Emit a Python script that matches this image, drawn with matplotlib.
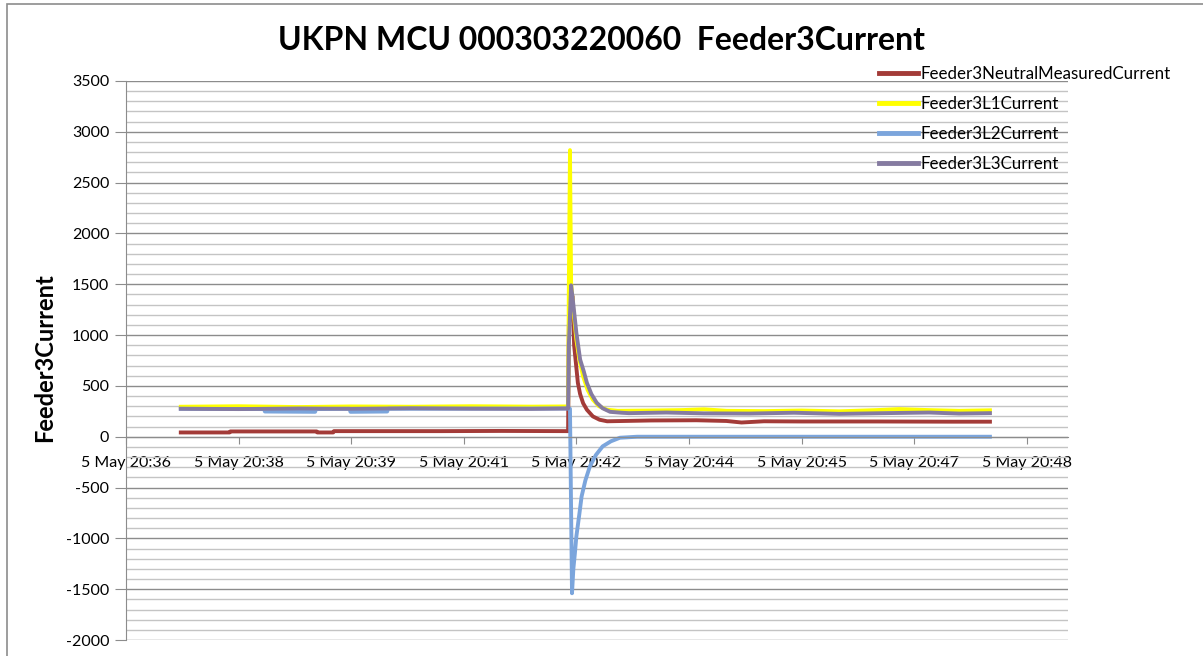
import matplotlib.pyplot as plt
from matplotlib.patches import Rectangle
from matplotlib.ticker import MultipleLocator

plt.rcParams['font.family'] = ['Lato', 'DejaVu Sans']
plt.rcParams['axes.unicode_minus'] = False

# minutes after 20:00 on 5 May
tick_pos = [36, 37.5, 39, 40.5, 42, 43.5, 45, 46.5, 48]
tick_labels = ['5 May 20:36', '5 May 20:38', '5 May 20:39', '5 May 20:41',
               '5 May 20:42', '5 May 20:44', '5 May 20:45', '5 May 20:47',
               '5 May 20:48']

neutral_t = [36.73, 37.38, 37.39, 38.54, 38.55, 38.76, 38.77, 40.2, 41.0, 41.89,
             41.90, 41.95, 41.97, 42.00, 42.02, 42.05, 42.09, 42.14, 42.22, 42.31,
             42.41, 43.0, 43.6, 44.0, 44.2, 44.5, 45.0, 46.0, 47.0, 47.51]
neutral_v = [42, 42, 52, 52, 42, 42, 55, 55, 57, 55,
             1100, 1380, 900, 680, 530, 420, 330, 266, 200, 167,
             152, 160, 162, 155, 140, 152, 150, 150, 148, 148]

l1_t = [36.73, 37.5, 38.3, 39.0, 39.8, 40.6, 41.4, 41.89, 41.90, 41.915,
        41.93, 41.96, 42.00, 42.04, 42.09, 42.15, 42.22, 42.30, 42.41, 42.55,
        43.0, 43.4, 43.7, 44.0, 44.5, 45.0, 45.5, 46.0, 46.3, 46.7,
        47.1, 47.51]
l1_v = [295, 300, 292, 298, 295, 300, 296, 298, 1500, 2820,
        1515, 1250, 955, 760, 593, 460, 364, 300, 266, 255,
        258, 262, 270, 255, 252, 258, 250, 262, 272, 262,
        255, 260]

l2_t = [36.73, 37.84, 37.85, 38.52, 38.53, 38.98, 38.99, 39.48, 39.49, 41.89,
        41.915, 41.942, 41.96, 41.98, 42.00, 42.04, 42.07, 42.12, 42.18, 42.26,
        42.35, 42.46, 42.58, 42.81, 44.0, 47.51]
l2_v = [275, 272, 248, 245, 272, 275, 245, 248, 275, 278,
        275, -1540, -1300, -1150, -981, -760, -587, -430, -292, -180,
        -95, -45, -10, 0, 0, 0]

l3_t = [36.73, 37.5, 38.3, 39.0, 39.8, 40.6, 41.4, 41.89, 41.90, 41.93,
        41.96, 42.00, 42.05, 42.10, 42.14, 42.20, 42.27, 42.35, 42.45, 42.6,
        42.7, 43.2, 43.7, 44.3, 44.9, 45.5, 46.1, 46.7, 47.1, 47.51]
l3_v = [275, 272, 278, 275, 280, 276, 274, 278, 900, 1490,
        1300, 1023, 760, 640, 531, 420, 335, 280, 245, 236,
        232, 238, 230, 228, 236, 225, 232, 238, 228, 232]

fig = plt.figure(figsize=(12.03, 6.56), dpi=100)
ax = fig.add_axes([126 / 1203, 1 - 640 / 656, (1068 - 126) / 1203, (640 - 81) / 656])

# outer chart frame (only left and top edges are visible)
fig.patches.append(Rectangle((7 / 1203, -0.1), 1.2, 1 - 4 / 656 + 0.1,
                             transform=fig.transFigure, fill=False,
                             edgecolor='#8c8c8c', lw=1.2, zorder=0))

lw = 2.8
ax.plot(neutral_t, neutral_v, color='#a33b38', lw=lw, label='Feeder3NeutralMeasuredCurrent')
ax.plot(l1_t, l1_v, color='#ffff00', lw=lw, label='Feeder3L1Current')
ax.plot(l2_t, l2_v, color='#7ba5dc', lw=lw, label='Feeder3L2Current')
ax.plot(l3_t, l3_v, color='#857ba1', lw=lw, label='Feeder3L3Current')

ax.set_xlim(36, 48.55)
ax.set_ylim(-2000, 3500)
ax.yaxis.set_major_locator(MultipleLocator(500))
ax.yaxis.set_minor_locator(MultipleLocator(100))
ax.grid(which='major', axis='y', color='#8c8c8c', lw=1.0)
ax.grid(which='minor', axis='y', color='#c4c4c4', lw=1.0)
ax.set_axisbelow(True)

ax.set_xticks(tick_pos)
ax.set_xticklabels(tick_labels)
ax.spines['bottom'].set_position(('data', 0))
for s in ['top', 'right']:
    ax.spines[s].set_visible(False)
ax.spines['bottom'].set_color('#8c8c8c')
ax.spines['left'].set_color('#8c8c8c')
ax.tick_params(axis='x', length=5, color='#8c8c8c', pad=9, labelsize=11.5)
ax.tick_params(axis='y', which='major', length=8, color='#8c8c8c', pad=4, labelsize=11.5)
ax.tick_params(axis='y', which='minor', length=0)

fig.text(601 / 1203, 1 - 40 / 656, 'UKPN MCU 000303220060  Feeder3Current',
         ha='center', va='center', fontsize=23, fontweight='bold')
fig.text(45 / 1203, 1 - 358 / 656, 'Feeder3Current', rotation=90,
         ha='center', va='center', fontsize=17, fontweight='bold')

leg = fig.legend(loc='upper left', bbox_to_anchor=(879 / 1203, 1 - 66 / 656),
                 frameon=False, fontsize=12.2, handlelength=2.3, handletextpad=0.12,
                 labelspacing=0.82, borderpad=0, borderaxespad=0)
for line in leg.get_lines():
    line.set_linewidth(3.5)

fig.savefig('out.png', dpi=100)
